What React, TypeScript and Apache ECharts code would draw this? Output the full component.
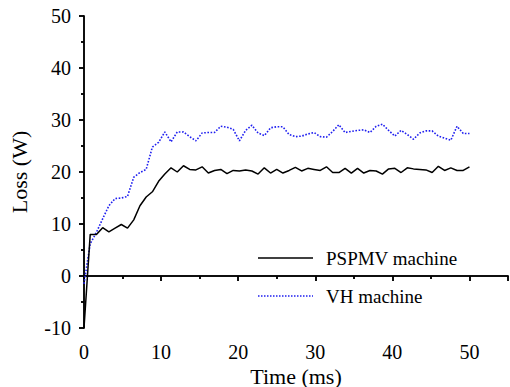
import React, { useEffect, useRef } from "react";
import * as echarts from "echarts";

// sampling grid (ms): 63 samples from 0 to 50
const TIME_STEP = 50 / 62;
const TIME: number[] = Array.from({ length: 63 }, (_, i) => +(i * TIME_STEP).toFixed(3));

const PSPMV = [
  -10, 8.0, 8.0, 9.3, 8.5, 9.2, 9.9, 9.2, 10.8, 13.5,
  15.2, 16.2, 18.2, 19.6, 20.8, 20.0, 21.2, 20.5, 20.4, 21.0,
  19.8, 20.3, 20.5, 19.7, 20.3, 20.2, 20.4, 20.2, 19.6, 20.8,
  19.8, 20.5, 19.8, 20.3, 20.9, 20.2, 20.7, 20.5, 20.3, 21.0,
  19.9, 19.9, 20.7, 19.8, 20.7, 19.8, 20.3, 20.2, 19.6, 20.6,
  20.7, 19.9, 20.8, 20.6, 20.5, 20.4, 19.9, 21.1, 20.3, 20.8,
  20.3, 20.3, 21.0,
];

const VH = [
  -1.5, 6.2, 8.4, 11.0, 13.5, 14.9, 15.0, 15.3, 19.0, 19.9,
  20.5, 24.8, 25.7, 27.7, 25.8, 27.7, 27.7, 26.8, 26.0, 27.5,
  27.6, 27.6, 28.8, 28.6, 28.2, 26.0, 28.0, 29.0, 27.5, 27.0,
  28.5, 28.7, 28.7, 27.2, 26.8, 26.9, 27.3, 27.6, 26.8, 26.7,
  27.8, 29.1, 27.6, 27.8, 28.0, 28.1, 27.6, 28.8, 29.2, 28.0,
  26.9, 28.0, 27.2, 26.3, 27.5, 27.9, 27.9, 26.9, 26.5, 26.1,
  28.8, 27.4, 27.4,
];

const SERIES_NAMES = ["PSPMV machine", "VH machine"];
const X_TITLE = "Time (ms)";
const Y_TITLE = "Loss (W)";

const FONT = "Liberation Serif";
const BLUE = "#1f1ff0";

export default function App() {
  const ref = useRef<HTMLDivElement>(null);

  useEffect(() => {
    if (!ref.current) return;
    const chart = echarts.init(ref.current, undefined, { renderer: "svg" });
    const axisLine = { show: true, lineStyle: { color: "#000", width: 1.5 } };
    const label = { color: "#000", fontFamily: FONT, fontSize: 20 };
    const nameStyle = { color: "#000", fontFamily: FONT, fontSize: 22 };
    const tickStyle = { color: "#000", width: 1.5 };
    const legendText = { fill: "#000", fontFamily: FONT, fontSize: 19, verticalAlign: "middle" };
    chart.setOption({
      animation: false,
      grid: { left: 84, right: 2, top: 16, bottom: 59, containLabel: false, outerBoundsMode: "none" },
      graphic: [
        { type: "line", shape: { x1: 258, y1: 258, x2: 313, y2: 258 }, style: { stroke: "#000", lineWidth: 1.5 } },
        { type: "text", x: 326, y: 258, style: { ...legendText, text: SERIES_NAMES[0] } },
        { type: "line", shape: { x1: 258, y1: 296, x2: 313, y2: 296 }, style: { stroke: BLUE, lineWidth: 1.5, lineDash: [1.5, 1.5] } },
        { type: "text", x: 326, y: 296, style: { ...legendText, text: SERIES_NAMES[1] } },
      ],
      xAxis: [
        {
          type: "value",
          min: 0,
          max: 55,
          interval: 10,
          position: "bottom",
          name: X_TITLE,
          nameLocation: "middle",
          nameGap: 37,
          nameMoveOverlap: false,
          nameTextStyle: nameStyle,
          axisLine,
          axisTick: { show: true, inside: false, length: 5, lineStyle: tickStyle },
          minorTick: { show: true, splitNumber: 2, length: 3, lineStyle: tickStyle },
          axisLabel: { ...label, margin: 14, showMaxLabel: false },
          splitLine: { show: false },
        },
        {
          type: "value",
          min: 0,
          max: 55,
          interval: 10,
          position: "top",
          axisLine,
          axisTick: { show: true, inside: true, length: 5, lineStyle: tickStyle },
          minorTick: { show: true, splitNumber: 2, length: 3, lineStyle: tickStyle },
          axisLabel: { show: false },
          splitLine: { show: false },
        },
      ],
      yAxis: [
        {
          type: "value",
          min: -10,
          max: 50,
          interval: 10,
          position: "left",
          name: Y_TITLE,
          nameLocation: "middle",
          nameGap: 54,
          nameMoveOverlap: false,
          nameTextStyle: nameStyle,
          axisLine,
          axisTick: { show: true, inside: false, length: 5, lineStyle: tickStyle },
          minorTick: { show: true, splitNumber: 2, length: 3, lineStyle: tickStyle },
          axisLabel: { ...label, margin: 13 },
          splitLine: { show: false },
        },
        {
          type: "value",
          min: -10,
          max: 50,
          interval: 10,
          position: "right",
          axisLine,
          axisTick: { show: true, inside: true, length: 5, lineStyle: tickStyle },
          minorTick: { show: true, splitNumber: 2, length: 3, lineStyle: tickStyle },
          axisLabel: { show: false },
          splitLine: { show: false },
        },
      ],
      series: [
        {
          name: SERIES_NAMES[0],
          type: "line",
          xAxisIndex: 0,
          yAxisIndex: 0,
          symbol: "none",
          data: TIME.map((t, i) => [t, PSPMV[i]]),
          lineStyle: { color: "#000", width: 1.5 },
          itemStyle: { color: "#000" },
          z: 3,
        },
        {
          name: SERIES_NAMES[1],
          type: "line",
          xAxisIndex: 0,
          yAxisIndex: 0,
          symbol: "none",
          data: TIME.map((t, i) => [t, VH[i]]),
          lineStyle: { color: BLUE, width: 1.6, type: [1.6, 1.6] },
          itemStyle: { color: BLUE },
          z: 2,
        },
      ],
    });
    return () => chart.dispose();
  }, []);

  return (
    <div
      ref={ref}
      style={{ position: "fixed", left: 0, top: 0, width: 510, height: 387, background: "#fff" }}
    />
  );
}
